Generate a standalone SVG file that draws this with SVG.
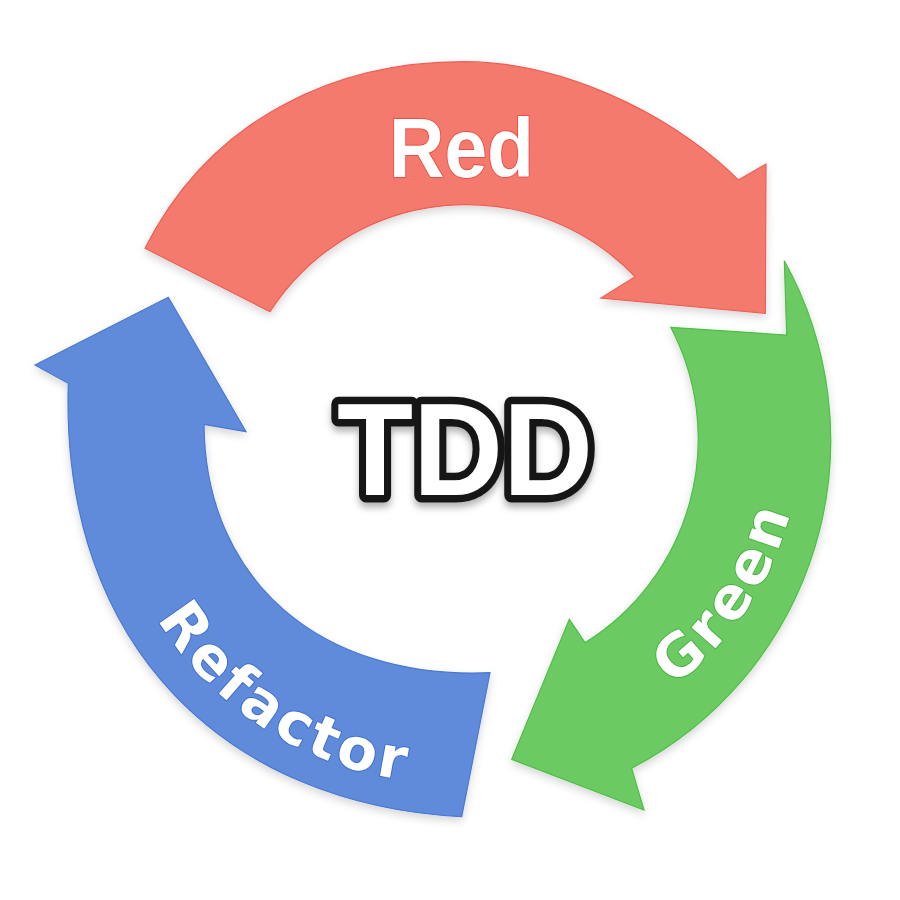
<svg xmlns="http://www.w3.org/2000/svg" xmlns:xlink="http://www.w3.org/1999/xlink" width="900" height="900" viewBox="0 0 900 900">
  <defs>
    <filter id="soft" x="-10%" y="-10%" width="120%" height="125%">
      <feDropShadow dx="0" dy="4" stdDeviation="4" flood-color="#000" flood-opacity="0.16"/>
    </filter>
    <filter id="txtShadow" x="-10%" y="-20%" width="120%" height="150%">
      <feDropShadow dx="0" dy="5" stdDeviation="3.5" flood-color="#000" flood-opacity="0.3"/>
    </filter>
    <path id="greenTextPath" d="M595,729.7 A321,321 0 0 0 801,424.4"/>
    <path id="refactorTextPath" d="M109.4,480.6 A343,343 0 0 0 549.1,768.3"/>
  </defs>
  <style>
    .band { stroke-width: 1.2; stroke-linejoin: miter; }
    .red { fill: #F57A6E; stroke: #EE5F55; }
    .green { fill: #6CCA64; stroke: #4DBF45; }
    .blue { fill: #5F8BDA; stroke: #4A78D4; }
    .lbl { font-family: "DejaVu Sans", "Liberation Sans", sans-serif; font-weight: bold; fill: #fff; paint-order: stroke; stroke-width: 2; stroke-linejoin: round; }
    .redlbl { font-family: "Liberation Sans", Arial, sans-serif; font-weight: bold; fill: #fff; paint-order: stroke; stroke-width: 2; stroke-linejoin: round; }
    .tdd { font-family: "Liberation Sans", Arial, sans-serif; font-weight: bold; font-size: 132px; fill: #fff; stroke: #161616; stroke-width: 15; stroke-linejoin: round; paint-order: stroke; }
  </style>
  <rect width="900" height="900" fill="#ffffff"/>

  <g id="cycle-arrows">
    <g id="red-stage">
      <path class="band red" filter="url(#soft)" d="M145,248.3 C212.5,114.8 340,61.7 463.3,61.7 C580,61.7 690,130 738.3,180 L766,164 L765.3,313.3 L601,298 L635,276.7 A233.4,233.4 0 0 0 270,311.7 Z"/>
      <text class="redlbl" x="461.5" y="177" font-size="84" text-anchor="middle" textLength="145" lengthAdjust="spacingAndGlyphs" stroke="#EE4E45">Red</text>
    </g>
    <g id="green-stage">
      <path class="band green" filter="url(#soft)" d="M670.7,327.3 L786.7,335 L784.3,260.7 A370,370 0 0 1 631.7,768.3 L644,810 L511.7,759.3 L569.3,619.3 L585,642.7 A240,240 0 0 0 670.7,327.3 Z"/>
      <text class="lbl" font-size="58" stroke="#45B43E"><textPath xlink:href="#greenTextPath" href="#greenTextPath" startOffset="50%" text-anchor="middle" textLength="212" lengthAdjust="spacing">Green</textPath></text>
    </g>
    <g id="blue-stage">
      <path class="band blue" filter="url(#soft)" d="M461.7,816.7 C230,805 60,650 68.3,383.3 L35,365 L168.3,297.3 L246,431.7 L204,424.3 C205,580 320,680 490,672.7 Z"/>
      <text class="lbl" font-size="58" stroke="#3E6ECF"><textPath xlink:href="#refactorTextPath" href="#refactorTextPath" startOffset="50%" text-anchor="middle" textLength="304" lengthAdjust="spacing">Refactor</textPath></text>
    </g>
  </g>

  <g id="center-label">
    <text class="tdd" x="465" y="495" text-anchor="middle" textLength="256" lengthAdjust="spacingAndGlyphs" filter="url(#txtShadow)">TDD</text>
  </g>
</svg>
